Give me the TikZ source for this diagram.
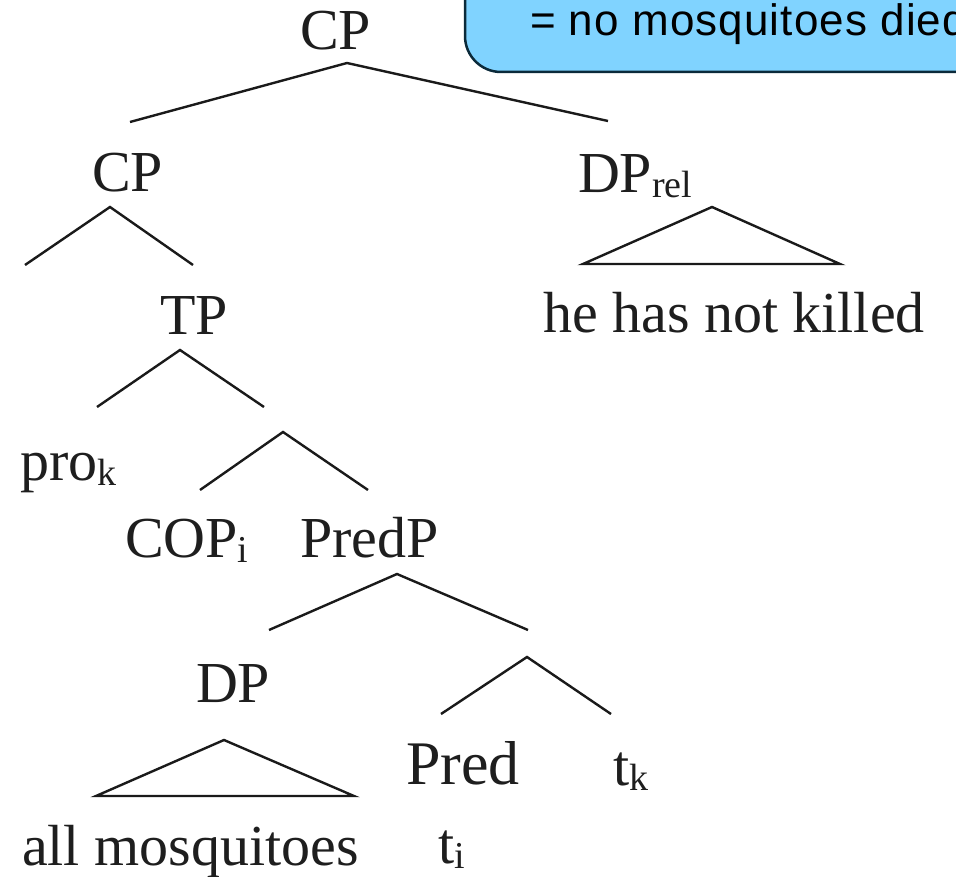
\documentclass[tikz,border=0pt]{standalone}
\usepackage{fontspec}
\setmainfont{Liberation Serif}
\newfontfamily\glossfont[LetterSpace=2.5]{Liberation Sans}
\definecolor{txt}{HTML}{1E1E1E}
\definecolor{ln}{HTML}{1A1A1A}
\definecolor{boxfill}{HTML}{80D3FF}
\definecolor{boxline}{HTML}{0B2A3A}
\newcommand{\lsub}[1]{\raisebox{-5pt}{\fontsize{38}{38}\selectfont #1}}
\begin{document}
\begin{tikzpicture}[x=1pt,y=-1pt,
  every node/.style={inner sep=0pt, outer sep=0pt, text=txt, font=\fontsize{58}{60}\selectfont},
  lbl/.style={anchor=base west},
  branch/.style={line width=2.4pt, draw=ln, line join=miter}]
\useasboundingbox (0,0) rectangle (956,877);
% gloss box (clipped by the picture's edges)
\begin{scope}
  \clip (0,0) rectangle (956,877);
  \draw[fill=boxfill, draw=boxline, line width=2.5pt, rounded corners=36pt] (465,-80) rectangle (1040,72);
  \node[anchor=base west, text=black, font=\glossfont\fontsize{44}{46}\selectfont] (gloss) at (530,36) {= no mosquitoes died};
\end{scope}
% labels
\node[lbl] (cp1) at (300,50) {CP};
\node[lbl] (cp2) at (92,192) {CP};
\node[lbl] (dprel) at (578,193) {DP\lsub{rel}};
\node[lbl] (hhnk) at (543,333) {he has not killed};
\node[lbl] (tp) at (160,335) {TP};
\node[lbl] (pro) at (20,480) {pro\lsub{k}};
\node[lbl] (cop) at (125,557) {COP\lsub{i}};
\node[lbl] (predp) at (300,557) {PredP};
\node[lbl] (dp) at (196,702) {DP};
\node[lbl, font=\fontsize{62}{64}\selectfont] (pred) at (406,784) {Pred};
\node[lbl] (tk) at (613,785) {t\lsub{k}};
\node[lbl] (allm) at (22,865) {all mosquitoes};
\node[lbl] (ti) at (438,863) {t\lsub{i}};
% branch points
\coordinate (a1) at (347,63);  \coordinate (a1l) at (130,122); \coordinate (a1r) at (608,121);
\coordinate (a2) at (110,207); \coordinate (a2l) at (25,265);  \coordinate (a2r) at (193,265);
\coordinate (a3) at (712,207); \coordinate (a3l) at (583,264); \coordinate (a3r) at (840,264);
\coordinate (a4) at (180,350); \coordinate (a4l) at (97,407);  \coordinate (a4r) at (264,407);
\coordinate (a5) at (283,432); \coordinate (a5l) at (200,490); \coordinate (a5r) at (368,490);
\coordinate (a6) at (397,574); \coordinate (a6l) at (269,630); \coordinate (a6r) at (528,630);
\coordinate (a7) at (527,657); \coordinate (a7l) at (441,714); \coordinate (a7r) at (611,714);
\coordinate (a8) at (224,740); \coordinate (a8l) at (96,796);  \coordinate (a8r) at (354,796);
% branches
\draw[branch] (a1l) -- (a1) -- (a1r);
\draw[branch] (a2l) -- (a2) -- (a2r);
\draw[branch] (a3l) -- (a3) -- (a3r) -- cycle;
\draw[branch] (a4l) -- (a4) -- (a4r);
\draw[branch] (a5l) -- (a5) -- (a5r);
\draw[branch] (a6l) -- (a6) -- (a6r);
\draw[branch] (a7l) -- (a7) -- (a7r);
\draw[branch] (a8l) -- (a8) -- (a8r) -- cycle;
\end{tikzpicture}
\end{document}
